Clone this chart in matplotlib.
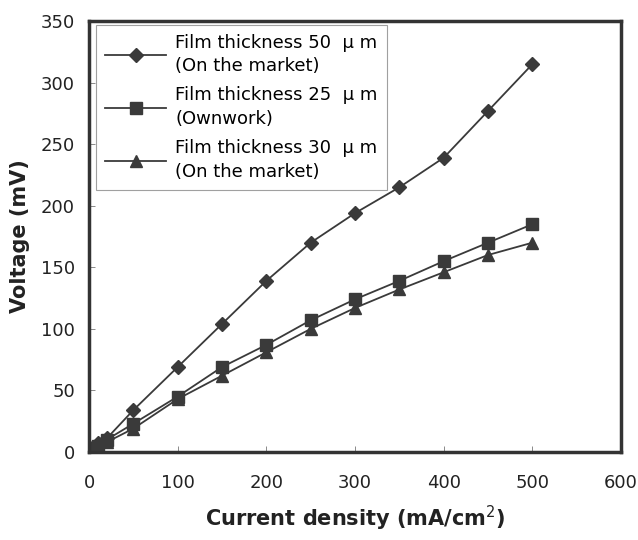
import matplotlib
matplotlib.use("Agg")
import matplotlib.pyplot as plt

# current density (mA/cm2)
current = [0, 5, 10, 20, 50, 100, 150, 200, 250, 300, 350, 400, 450, 500]

# voltage (mV)
v_50um = [0, 4, 7, 11, 34, 69, 104, 139, 170, 194, 215, 239, 277, 315]
v_25um = [0, 3, 5, 10, 23, 45, 69, 87, 107, 124, 139, 155, 170, 185]
v_30um = [0, 3, 5, 8, 19, 43, 62, 81, 100, 117, 132, 146, 160, 170]

labels = ["Film thickness 50  \u03bc m\n(On the market)",
          "Film thickness 25  \u03bc m\n(Ownwork)",
          "Film thickness 30  \u03bc m\n(On the market)"]

c = "#3a3a3a"
fig = plt.figure(figsize=(6.38, 5.40), dpi=100)
ax = fig.add_axes([0.1395, 0.163, 0.834, 0.798])

ax.plot(current, v_50um, color=c, lw=1.3, marker="D", ms=7, label=labels[0])
ax.plot(current, v_25um, color=c, lw=1.3, marker="s", ms=8, label=labels[1])
ax.plot(current, v_30um, color=c, lw=1.3, marker="^", ms=8, label=labels[2])

ax.set_xlim(0, 600)
ax.set_ylim(0, 350)
ax.set_xticks(range(0, 601, 100))
ax.set_yticks(range(0, 351, 50))
ax.tick_params(direction="in", length=4, width=0.6, colors="#777777",
               labelcolor="#222222", labelsize=13)
ax.tick_params(axis="x", pad=16)
ax.tick_params(axis="y", pad=10)
for s in ax.spines.values():
    s.set_linewidth(2.5)
    s.set_color("#333333")

ax.set_xlabel("Current density (mA/cm$^2$)", fontsize=15, fontweight="bold",
              color="#222222", labelpad=8)
ax.set_ylabel("Voltage (mV)", fontsize=15, fontweight="bold",
              color="#222222", labelpad=8)

leg = ax.legend(loc="upper left", bbox_to_anchor=(0.013, 0.992), borderaxespad=0,
                fontsize=13, frameon=True, fancybox=False, edgecolor="#888888",
                handlelength=3.4, labelspacing=0.62, handletextpad=0.5,
                borderpad=0.5)
leg.get_frame().set_linewidth(0.8)
for t in leg.get_texts():
    t.set_linespacing(1.4)

fig.savefig("out.png", dpi=100)
